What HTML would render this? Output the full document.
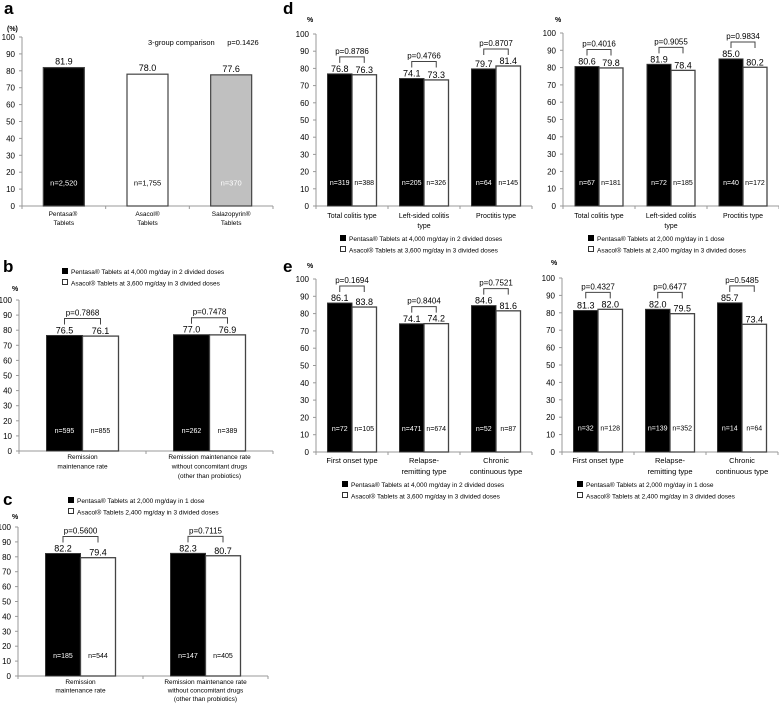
<!DOCTYPE html>
<html><head><meta charset="utf-8">
<style>
html,body{margin:0;padding:0;background:#fff;}
svg{display:block;font-family:"Liberation Sans",Arial,sans-serif;}
text{white-space:pre;}
</style></head>
<body>
<svg id="fig" width="779" height="703" viewBox="0 0 779 703" xmlns="http://www.w3.org/2000/svg">
<g id="static" font-weight="bold" font-size="17">
  <text x="4" y="14">a</text>
  <text x="283" y="14">d</text>
  <text x="3" y="272">b</text>
  <text x="283" y="272">e</text>
  <text x="3" y="505">c</text>
</g>
</svg>
<script>
// Panel a
const aCategories = [["Pentasa® ","Tablets"],["Asacol®","Tablets"],["Salazopyrin®","Tablets"]];
const aValues = [81.9, 78.0, 77.6];
const aN = ["n=2,520","n=1,755","n=370"];
// Panel b
const bCategories = [["Remission","maintenance rate"],["Remission maintenance rate","without concomitant drugs","(other than probiotics)"]];
const bPentasa = [76.5, 77.0];
const bAsacol = [76.1, 76.9];
const bPentasaN = ["n=595","n=262"];
const bAsacolN = ["n=855","n=389"];
const bP = ["p=0.7868","p=0.7478"];
// Panel c
const cCategories = [["Remission","maintenance rate"],["Remission maintenance rate","without concomitant drugs","(other than probiotics)"]];
const cPentasa = [82.2, 82.3];
const cAsacol = [79.4, 80.7];
const cPentasaN = ["n=185","n=147"];
const cAsacolN = ["n=544","n=405"];
const cP = ["p=0.5600","p=0.7115"];
// Panel d
const dCategories = [["Total colitis type"],["Left-sided colitis","type"],["Proctitis type"]];
const d1Pentasa = [76.8, 74.1, 79.7];
const d1Asacol = [76.3, 73.3, 81.4];
const d1PentasaN = ["n=319","n=205","n=64"];
const d1AsacolN = ["n=388","n=326","n=145"];
const d1P = ["p=0.8786","p=0.4766","p=0.8707"];
const d2Pentasa = [80.6, 81.9, 85.0];
const d2Asacol = [79.8, 78.4, 80.2];
const d2PentasaN = ["n=67","n=72","n=40"];
const d2AsacolN = ["n=181","n=185","n=172"];
const d2P = ["p=0.4016","p=0.9055","p=0.9834"];
// Panel e
const eCategories = [["First onset type"],["Relapse-","remitting type"],["Chronic","continuous type"]];
const e1Pentasa = [86.1, 74.1, 84.6];
const e1Asacol = [83.8, 74.2, 81.6];
const e1PentasaN = ["n=72","n=471","n=52"];
const e1AsacolN = ["n=105","n=674","n=87"];
const e1P = ["p=0.1694","p=0.8404","p=0.7521"];
const e2Pentasa = [81.3, 82.0, 85.7];
const e2Asacol = [82.0, 79.5, 73.4];
const e2PentasaN = ["n=32","n=139","n=14"];
const e2AsacolN = ["n=128","n=352","n=64"];
const e2P = ["p=0.4327","p=0.6477","p=0.5485"];
const yTicks = [0,10,20,30,40,50,60,70,80,90,100];

const NS = "http://www.w3.org/2000/svg";
const svg = document.getElementById('fig');
function mk(tag, attrs, parent, txt){
  const e = document.createElementNS(NS, tag);
  for (const k in attrs) e.setAttribute(k, attrs[k]);
  if (txt !== undefined) e.textContent = txt;
  (parent||svg).appendChild(e);
  return e;
}

function axes(g, L, cats, name){
  const y = v => L.y0 - (L.y0 - L.y100) * v / 100;
  const xa = mk('line',{x1:L.x0,y1:L.y0,x2:L.x0,y2:L.y100,stroke:'#999','stroke-width':1},g);
  
  
  const xb = mk('line',{x1:L.x0,y1:L.y0,x2:L.x1,y2:L.y0,stroke:'#999','stroke-width':1},g);
  
  
  yTicks.forEach(t=>{
    mk('line',{x1:L.x0-3,y1:y(t),x2:L.x0,y2:y(t),stroke:'#999'},g);
    const tl = mk('text',{x:L.x0-7,y:y(t)+3,'font-size':8,'text-anchor':'end'},g,String(t));
    
    
  });
  const cw = (L.x1 - L.x0) / cats.length;
  for (let i=0;i<=cats.length;i++){
    mk('line',{x1:L.x0+cw*i,y1:L.y0,x2:L.x0+cw*i,y2:L.y0+3,stroke:'#999'},g);
  }
  cats.forEach((lines,i)=>{
    lines.forEach((s,j)=>{
      const t = mk('text',{x:L.x0+cw*(i+0.5),y:L.labY+j*L.labDy,'font-size':L.labFs||7,'text-anchor':'middle'},g,s);
      
      
    });
  });
  const u = mk('text',{x:L.ux,y:L.uy,'font-size':7,'font-weight':'bold'},g,L.unit||'%');
  
  
  return {y, cw};
}

function pairPanel(name, L, cats, pv, av, pn, an, pp){
  const g = mk('g',{},svg);
  
  
  const {y, cw} = axes(g, L, cats, name);
  const bw = L.bw;
  cats.forEach((c,i)=>{
    const cx = L.x0 + cw*(i+0.5);
    const bx = cx - bw, wx = cx;
    const b1 = mk('rect',{x:bx,y:y(pv[i]),width:bw,height:L.y0-y(pv[i]),fill:'#000',stroke:'#333','stroke-width':1},g);
    
    
    const b2 = mk('rect',{x:wx,y:y(av[i]),width:bw,height:L.y0-y(av[i]),fill:'#fff',stroke:'#444','stroke-width':1.3},g);
    
    
    const v1 = mk('text',{x:bx+bw/2,y:y(pv[i])-2,'font-size':9,'text-anchor':'middle'},g,pv[i].toFixed(1));
    
    
    const v2 = mk('text',{x:wx+bw/2,y:y(av[i])-2,'font-size':9,'text-anchor':'middle'},g,av[i].toFixed(1));
    
    
    const n1 = mk('text',{x:bx+bw/2,y:y(14)+3,'font-size':7,'text-anchor':'middle',fill:'#fff'},g,pn[i]);
    
    
    const n2 = mk('text',{x:wx+bw/2,y:y(14)+3,'font-size':7,'text-anchor':'middle',fill:'#000'},g,an[i]);
    
    
    const m = Math.max(pv[i], av[i]);
    const top = y(m) - 17, bot = y(m) - 11;
    const br = mk('path',{d:`M${bx+bw/2},${bot} V${top} H${wx+bw/2} V${bot}`,fill:'none',stroke:'#444','stroke-width':1},g);
    
    
    const pt = mk('text',{x:cx,y:top-3,'font-size':8,'text-anchor':'middle'},g,pp[i]);
    
    
  });
}

function legend(name, x, y, l1, l2){
  const g = mk('g',{},svg);
  
  
  mk('rect',{x:x,y:y-6,width:6,height:6,fill:'#000'},g);
  mk('text',{x:x+9,y:y,'font-size':6.5},g,l1);
  mk('rect',{x:x+0.5,y:y+5.5,width:5,height:5,fill:'#fff',stroke:'#000','stroke-width':0.8},g);
  mk('text',{x:x+9,y:y+11.5,'font-size':6.5},g,l2);
}

// Panel a
(function(){
  const L = {x0:22,x1:273,y0:206,y100:37,labY:216,labDy:9,ux:7,uy:31,unit:'(%)',labFs:6.5};
  const g = mk('g',{},svg);
  
  
  const {y, cw} = axes(g, L, aCategories, 'panel-a');
  const fills = ['#000','#fff','#c0c0c0'];
  const txt = ['#fff','#000','#fff'];
  aValues.forEach((v,i)=>{
    const cx = L.x0 + cw*(i+0.5), bw = 41;
    const r = mk('rect',{x:cx-bw/2,y:y(v),width:bw,height:L.y0-y(v),fill:fills[i],stroke:'#444','stroke-width':1.2},g);
    
    
    const t = mk('text',{x:cx,y:y(v)-3,'font-size':9,'text-anchor':'middle'},g,v.toFixed(1));
    
    
    const n = mk('text',{x:cx,y:y(14)+3,'font-size':7.5,'text-anchor':'middle',fill:txt[i]},g,aN[i]);
    
    
  });
  const c = mk('text',{x:148,y:45,'font-size':7.5},g,'3-group comparison      p=0.1426');
  
  
})();

pairPanel('panel-b',{x0:19,x1:273,y0:451,y100:300,bw:36,labY:459,labDy:9.5,ux:12,uy:291,labFs:6.5},bCategories,bPentasa,bAsacol,bPentasaN,bAsacolN,bP);
legend('panel-b-legend',62,274,'Pentasa® Tablets at 4,000 mg/day in 2 divided doses','Asacol® Tablets at 3,600 mg/day in 3 divided doses');

pairPanel('panel-c',{x0:18,x1:268,y0:676,y100:527,bw:35,labY:684,labDy:8.5,ux:12,uy:519,labFs:6.5},cCategories,cPentasa,cAsacol,cPentasaN,cAsacolN,cP);
legend('panel-c-legend',68,503,'Pentasa® Tablets at 2,000 mg/day in 1 dose','Asacol® Tablets 2,400 mg/day in 3 divided doses');

pairPanel('panel-d-left',{x0:316,x1:532,y0:206,y100:34,bw:24.5,labY:218,labDy:10,ux:307,uy:22},dCategories,d1Pentasa,d1Asacol,d1PentasaN,d1AsacolN,d1P);
legend('panel-d-left-legend',340,241,'Pentasa® Tablets at 4,000 mg/day in 2 divided doses','Asacol® Tablets at 3,600 mg/day in 3 divided doses');
pairPanel('panel-d-right',{x0:563,x1:779,y0:206,y100:33,bw:24,labY:218,labDy:10,ux:555,uy:22},dCategories,d2Pentasa,d2Asacol,d2PentasaN,d2AsacolN,d2P);
legend('panel-d-right-legend',588,241,'Pentasa® Tablets at 2,000 mg/day in 1 dose','Asacol® Tablets at 2,400 mg/day in 3 divided doses');

pairPanel('panel-e-left',{x0:316,x1:532,y0:452,y100:279,bw:24.5,labY:463,labDy:11,ux:307,uy:268,labFs:7.5},eCategories,e1Pentasa,e1Asacol,e1PentasaN,e1AsacolN,e1P);
legend('panel-e-left-legend',342,487,'Pentasa® Tablets at 4,000 mg/day in 2 divided doses','Asacol® Tablets at 3,600 mg/day in 3 divided doses');
pairPanel('panel-e-right',{x0:562,x1:778,y0:452,y100:278,bw:24.5,labY:463,labDy:11,ux:551,uy:265,labFs:7.5},eCategories,e2Pentasa,e2Asacol,e2PentasaN,e2AsacolN,e2P);
legend('panel-e-right-legend',577,487,'Pentasa® Tablets at 2,000 mg/day in 1 dose','Asacol® Tablets at 2,400 mg/day in 3 divided doses');
</script>
</body></html>
